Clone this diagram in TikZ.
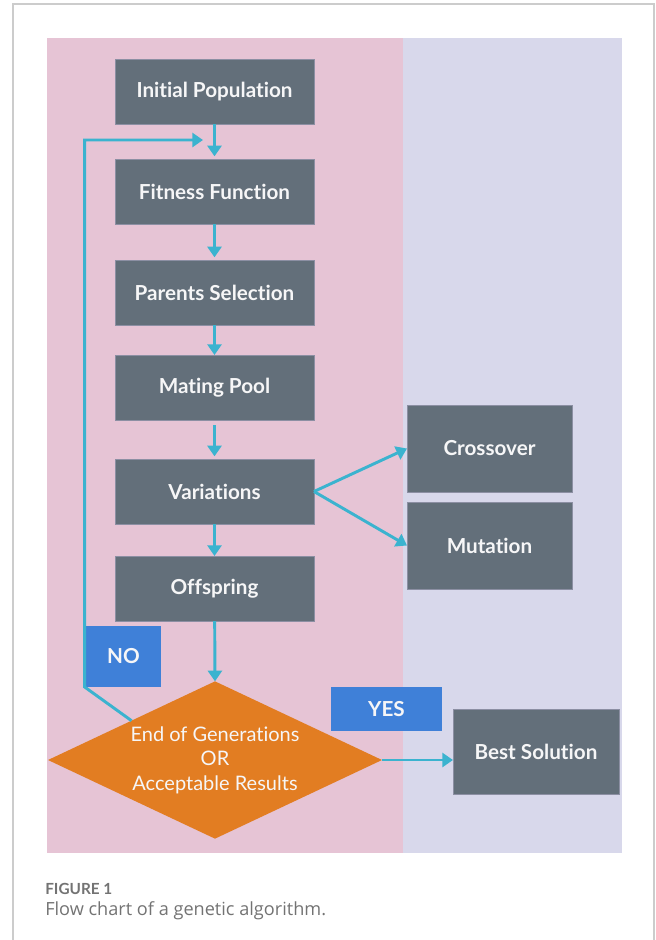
\documentclass[tikz,border=0pt]{standalone}
\usepackage{fontspec}
\setmainfont{Lato}[Ligatures=NoCommon]
\newfontfamily\captionfont{Open Sans}
\usepackage{tikz}
\usetikzlibrary{positioning}
\usetikzlibrary{shapes.geometric}
\usetikzlibrary{arrows.meta}

\definecolor{lanepink}{HTML}{E6C4D5}
\definecolor{lanelilac}{HTML}{D8D8EB}
\definecolor{boxgray}{HTML}{636F7A}
\definecolor{boxedge}{HTML}{8C8FA3}
\definecolor{flowcyan}{HTML}{3BB3CF}
\definecolor{checkorange}{HTML}{E27D22}
\definecolor{tagblue}{HTML}{3F80D8}
\definecolor{framegray}{HTML}{CCCCCC}
\definecolor{captiongray}{HTML}{737373}

\begin{document}
\begin{tikzpicture}[x=0.75pt, y=-0.75pt,%
	base/.style={align=center, outer sep=0pt, inner sep=0pt,
		text=white!94!boxgray, font=\fontsize{15.5}{18}\selectfont\bfseries},
	stage/.style={base, fill=boxgray, draw=boxedge, line width=0.5pt,
		minimum width=149.25pt, minimum height=48.75pt},
	operator/.style={stage, minimum width=123.75pt, minimum height=65.25pt},
	decision/.style={base, shape=diamond, aspect=2.14, fill=checkorange,
		minimum width=250.5pt, minimum height=118pt,
		font=\fontsize{15}{18.4}\selectfont},
	tag/.style={base, fill=tagblue},
	arrow/.style={color=flowcyan, line width=2.2pt,
		arrows={-Triangle[length=8pt, width=10.5pt]}}%
	]
	\useasboundingbox (0,0) rectangle (656,940);
	%
	% Frame and lanes
	%
	\draw[framegray, line width=1pt] (13,940) -- (13,4) -- (654,4) -- (654,940);
	\fill[lanepink] (47,38) rectangle (403,853);
	\fill[lanelilac] (403,38) rectangle (622,853);
	%
	% Nodes
	%
	\node[stage] (INIT) at (214.5,91.5) {Initial Population};
	\node[stage, below=26.25pt of INIT] (FITNESS) {Fitness Function};
	\node[stage, below=27pt of FITNESS] (PARENTS) {Parents Selection};
	\node[stage, below=22.5pt of PARENTS] (POOL) {Mating Pool};
	\node[stage, below=29.25pt of POOL] (VARIATIONS) {Variations};
	\node[stage, below=24pt of VARIATIONS] (OFFSPRING) {Offspring};
	\node[operator] (CROSSOVER) at (489.5,448.5) {Crossover};
	\node[operator, below=7.5pt of CROSSOVER] (MUTATION) {Mutation};
	\node[decision] (CHECK) at (215,760) {End of Generations\\ OR\\ Acceptable Results};
	\node[stage, minimum width=124.5pt, minimum height=63.75pt] (BEST) at (536,751.5) {Best Solution};
	\node[tag, minimum width=56.25pt, minimum height=45.75pt] (NO) at (123.5,656.5) {NO};
	\node[tag, minimum width=83.25pt, minimum height=33pt] (YES) at (386.5,709) {YES};
	\coordinate (LOOP) at (203,140);
	%
	% Connectors
	%
	\path[arrow, shorten >=2pt] (INIT) edge (FITNESS);
	\path[arrow, shorten >=2pt] (FITNESS) edge (PARENTS);
	\path[arrow] (PARENTS) edge (POOL);
	\path[arrow, shorten <=4pt, shorten >=2pt] (POOL) edge (VARIATIONS);
	\path[arrow] (VARIATIONS) edge (OFFSPRING);
	\path[arrow] (VARIATIONS.east) edge (CROSSOVER.west);
	\path[arrow] (VARIATIONS.east) edge (MUTATION.west);
	\path[arrow] (OFFSPRING) edge (CHECK.north);
	\path[arrow] (CHECK.east) edge (CHECK.east -| BEST.west);
	\draw[arrow] (CHECK.north west) -- ([xshift=-1pt]NO.south west)
		-- ([xshift=-1pt]NO.south west |- LOOP) -- (LOOP);
	%
	% Caption
	%
	\node[anchor=base west, inner sep=0pt, text=captiongray,
		font=\fontsize{11.5}{13}\selectfont\bfseries] (CAPTIONHEAD) at (45,894) {FIGURE 1};
	\node[anchor=base west, inner sep=0pt, text=captiongray,
		font=\captionfont\fontsize{13.6}{15}\selectfont] (CAPTIONTEXT) at (45,915) {Flow chart of a genetic algorithm.};
\end{tikzpicture}
\end{document}
